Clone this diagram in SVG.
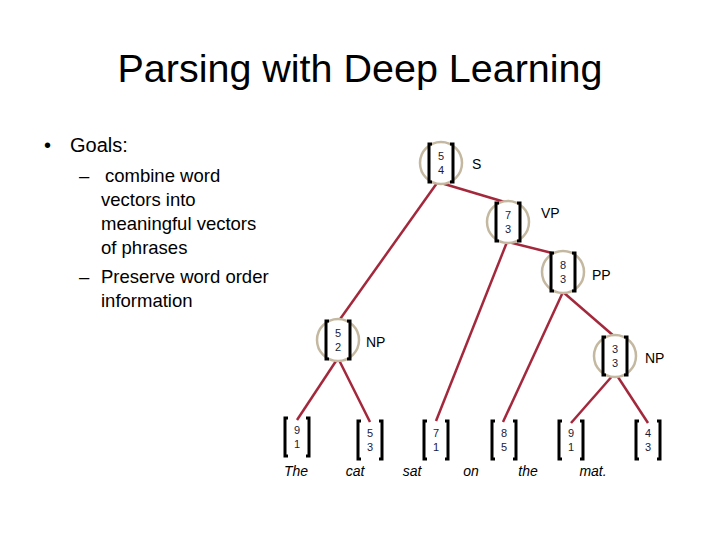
<svg xmlns="http://www.w3.org/2000/svg" width="720" height="540" viewBox="0 0 720 540">
<style>
.t{font-family:"Liberation Sans",Arial,sans-serif;fill:#000}
.ed{stroke:#a3283c;stroke-width:2.5;fill:none}
.ring{fill:#fff;stroke:#c4b8a0;stroke-width:2.5}
.br{fill:none;stroke:#000;stroke-width:3}
.num{font-family:"Liberation Sans",Arial,sans-serif;font-size:11px;fill:#1a1a3a;text-anchor:middle}
.lab{font-family:"Liberation Sans",Arial,sans-serif;font-size:14px;fill:#000}
.w{font-family:"Liberation Sans",Arial,sans-serif;font-size:14px;font-style:italic;fill:#000;text-anchor:middle}
</style>
<defs>
<g id="vec">
<path class="br" d="M-9,-19 h-3 v38 h3 M9,-19 h3 v38 h-3"/>
</g>
</defs>
<rect width="720" height="540" fill="#fff"/>
<text class="t" x="360" y="82" font-size="38" text-anchor="middle" textLength="485" lengthAdjust="spacingAndGlyphs">Parsing with Deep Learning</text>
<text class="t" x="44" y="152" font-size="20">•</text>
<text class="t" x="70" y="152" font-size="20">Goals:</text>
<g class="t" font-size="18.5">
<text x="79" y="182">–</text>
<text x="105" y="182">combine word</text>
<text x="101" y="206">vectors into</text>
<text x="101" y="230">meaningful vectors</text>
<text x="101" y="254">of phrases</text>
<text x="79" y="283">–</text>
<text x="101" y="283">Preserve word order</text>
<text x="101" y="307">information</text>
</g>
<g id="connectors">
<line class="ed" x1="441" y1="183" x2="508" y2="203"/>
<line class="ed" x1="437" y1="183" x2="338" y2="322"/>
<line class="ed" x1="508" y1="242" x2="560" y2="255"/>
<line class="ed" x1="507" y1="242" x2="436" y2="421"/>
<line class="ed" x1="563" y1="292" x2="503" y2="422"/>
<line class="ed" x1="563" y1="292" x2="615" y2="337"/>
<line class="ed" x1="338" y1="358" x2="297" y2="420"/>
<line class="ed" x1="338" y1="358" x2="370" y2="422"/>
<line class="ed" x1="614" y1="374" x2="571" y2="423"/>
<line class="ed" x1="616" y1="374" x2="648" y2="423"/>
</g>
<g id="node-S">
<circle class="ring" cx="441" cy="163" r="21"/>
<use href="#vec" x="441" y="163"/>
<text class="num" x="441" y="160">5</text><text class="num" x="441" y="174">4</text>
<text class="lab" x="472" y="169">S</text>
</g>
<g id="node-VP">
<circle class="ring" cx="508" cy="222" r="21"/>
<use href="#vec" x="508" y="222"/>
<text class="num" x="508" y="219">7</text><text class="num" x="508" y="233">3</text>
<text class="lab" x="541" y="218">VP</text>
</g>
<g id="node-PP">
<circle class="ring" cx="563" cy="272" r="21"/>
<use href="#vec" x="563" y="272"/>
<text class="num" x="563" y="269">8</text><text class="num" x="563" y="283">3</text>
<text class="lab" x="592" y="280">PP</text>
</g>
<g id="node-NP1">
<circle class="ring" cx="338" cy="340" r="21"/>
<use href="#vec" x="338" y="340"/>
<text class="num" x="338" y="337">5</text><text class="num" x="338" y="351">2</text>
<text class="lab" x="366" y="347">NP</text>
</g>
<g id="node-NP2">
<circle class="ring" cx="615" cy="356" r="21"/>
<use href="#vec" x="615" y="356"/>
<text class="num" x="615" y="353">3</text><text class="num" x="615" y="367">3</text>
<text class="lab" x="645" y="363">NP</text>
</g>
<g id="leaf-The">
<use href="#vec" x="297" y="437"/>
<text class="num" x="297" y="434">9</text><text class="num" x="297" y="448">1</text>
<text class="w" x="296" y="476">The</text>
</g>
<g id="leaf-cat">
<use href="#vec" x="370" y="440"/>
<text class="num" x="370" y="437">5</text><text class="num" x="370" y="451">3</text>
<text class="w" x="355" y="476">cat</text>
</g>
<g id="leaf-sat">
<use href="#vec" x="436" y="440"/>
<text class="num" x="436" y="437">7</text><text class="num" x="436" y="451">1</text>
<text class="w" x="412" y="476">sat</text>
</g>
<g id="leaf-on">
<use href="#vec" x="504" y="440"/>
<text class="num" x="504" y="437">8</text><text class="num" x="504" y="451">5</text>
<text class="w" x="471" y="476">on</text>
</g>
<g id="leaf-the">
<use href="#vec" x="571" y="440"/>
<text class="num" x="571" y="437">9</text><text class="num" x="571" y="451">1</text>
<text class="w" x="528" y="476">the</text>
</g>
<g id="leaf-mat">
<use href="#vec" x="648" y="440"/>
<text class="num" x="648" y="437">4</text><text class="num" x="648" y="451">3</text>
<text class="w" x="593" y="476">mat.</text>
</g>
</svg>
